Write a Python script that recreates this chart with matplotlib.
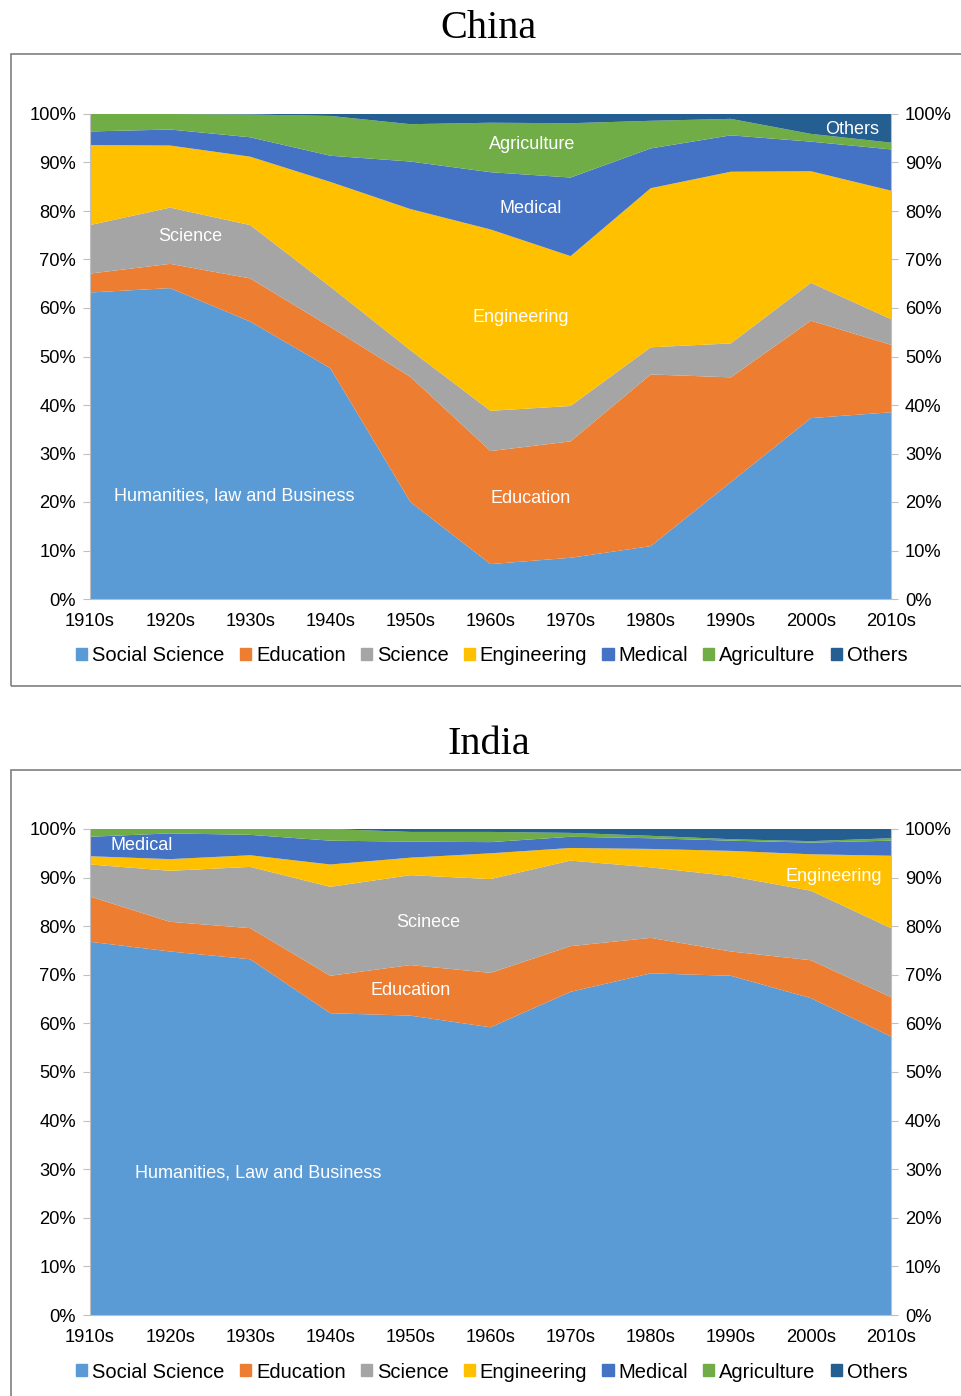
import matplotlib
matplotlib.use("Agg")
import matplotlib.pyplot as plt
from matplotlib.patches import Rectangle, Patch
import numpy as np

decades = ["1910s", "1920s", "1930s", "1940s", "1950s", "1960s",
           "1970s", "1980s", "1990s", "2000s", "2010s"]
fields = ["Social Science", "Education", "Science", "Engineering",
          "Medical", "Agriculture", "Others"]
colors = ["#5B9BD5", "#ED7D31", "#A5A5A5", "#FFC000",
          "#4472C4", "#70AD47", "#255E91"]

# China shares (%) per decade
china_social = [63.2, 64.1, 57.2, 47.6, 20.0, 7.2, 8.5, 10.9, 24.1, 37.3, 38.5]
china_edu = [3.9, 5.0, 8.9, 8.5, 25.8, 23.3, 24.0, 35.4, 21.6, 20.1, 13.9]
china_sci = [10.0, 11.6, 11.0, 8.3, 5.5, 8.3, 7.3, 5.6, 7.0, 7.8, 5.3]
china_eng = [16.5, 12.8, 14.1, 21.6, 29.1, 37.4, 30.9, 32.8, 35.4, 23.0, 26.5]
china_med = [2.8, 3.3, 4.0, 5.4, 9.8, 11.8, 16.2, 8.2, 7.5, 6.1, 8.5]
china_agri = [3.6, 3.2, 4.7, 8.2, 7.7, 10.2, 11.2, 5.7, 3.4, 1.6, 1.4]
china_other = [0.0, 0.0, 0.1, 0.4, 2.1, 1.8, 1.9, 1.4, 1.0, 4.1, 5.9]

# India shares (%) per decade
india_social = [76.8, 74.8, 73.2, 62.1, 61.6, 59.2, 66.5, 70.3, 69.8, 65.2, 57.3]
india_edu = [9.3, 6.1, 6.4, 7.7, 10.4, 11.2, 9.4, 7.3, 5.0, 7.8, 8.1]
india_sci = [6.6, 10.5, 12.6, 18.3, 18.5, 19.3, 17.6, 14.5, 15.5, 14.3, 14.2]
india_eng = [1.7, 2.4, 2.4, 4.6, 3.6, 5.3, 2.6, 3.8, 5.2, 7.5, 14.9]
india_med = [4.0, 5.3, 4.2, 4.9, 3.3, 2.3, 2.3, 2.2, 2.1, 2.4, 3.1]
india_agri = [1.6, 0.9, 1.2, 2.4, 2.0, 2.1, 0.8, 0.5, 0.3, 0.3, 0.5]
india_other = [0.0, 0.0, 0.0, 0.0, 0.6, 0.6, 0.8, 1.4, 2.1, 2.5, 1.9]

china_labels = [("Humanities, law and Business", 1.8, 21.2),
                ("Science", 1.25, 74.8),
                ("Engineering", 5.38, 58.1),
                ("Education", 5.5, 20.8),
                ("Medical", 5.5, 80.6),
                ("Agriculture", 5.52, 93.8),
                ("Others", 9.52, 96.9)]
india_labels = [("Humanities, Law and Business", 2.1, 29.2),
                ("Medical", 0.65, 96.6),
                ("Scinece", 4.22, 80.8),
                ("Education", 4.0, 66.8),
                ("Engineering", 9.29, 90.3)]

W, H = 962, 1396
fig = plt.figure(figsize=(W / 100, H / 100), dpi=100)
plt.rcParams["font.family"] = ["Liberation Sans", "DejaVu Sans"]

def px_axes(x0, y0, x1, y1):
  return fig.add_axes([x0 / W, 1 - y1 / H, (x1 - x0) / W, (y1 - y0) / H])

def draw_panel(series, labels, title, box_top, box_bot, plot_top, plot_bot, legend_y, title_y):
  fig.add_artist(Rectangle((11 / W, 1 - box_bot / H), 1.0, (box_bot - box_top) / H,
                           transform=fig.transFigure, fill=False,
                           edgecolor="#7F7F7F", lw=1.2))
  fig.text(489 / W, 1 - title_y / H, title, ha="center", va="center",
           fontsize=29, family=["Liberation Serif", "DejaVu Serif"])
  ax = px_axes(90, plot_top, 891, plot_bot)
  x = np.arange(len(decades))
  ax.stackplot(x, *series, colors=colors, labels=fields, lw=0)
  ax.set_xlim(0, len(decades) - 1)
  ax.set_ylim(0, 100)
  ax.set_yticks(np.arange(0, 101, 10))
  ax.set_yticklabels([f"{v}%" for v in range(0, 101, 10)])
  ax.set_xticks(x)
  ax.set_xticklabels(decades)
  for s in ["top", "right"]:
    ax.spines[s].set_visible(False)
  for s in ["left", "bottom"]:
    ax.spines[s].set_color("#BFBFBF")
  ax.tick_params(axis="y", length=5, color="#BFBFBF", labelsize=13.2, pad=5)
  ax.tick_params(axis="x", length=0, labelsize=13.2, pad=10)
  ax2 = ax.twinx()
  ax2.set_ylim(0, 100)
  ax2.set_yticks(np.arange(0, 101, 10))
  ax2.set_yticklabels([f"{v}%" for v in range(0, 101, 10)])
  for s in ["top", "left", "bottom"]:
    ax2.spines[s].set_visible(False)
  ax2.spines["right"].set_color("#BFBFBF")
  ax2.tick_params(axis="y", length=5, color="#BFBFBF", labelsize=13.2, pad=5)
  for txt, lx, ly in labels:
    ax.text(lx, ly, txt, color="white", fontsize=13, ha="center", va="center")
  handles = [Patch(color=c, label=f) for c, f in zip(colors, fields)]
  fig.legend(handles=handles, loc="center", bbox_to_anchor=(492 / W, 1 - (legend_y + 2) / H),
             ncol=7, frameon=False, fontsize=14.5, handlelength=0.55, handleheight=0.55,
             handletextpad=0.25, columnspacing=0.75)

draw_panel([china_social, china_edu, china_sci, china_eng, china_med, china_agri, china_other],
           china_labels, "China", 54, 686, 114, 599, 654, 29)
draw_panel([india_social, india_edu, india_sci, india_eng, india_med, india_agri, india_other],
           india_labels, "India", 770, 1420, 829, 1315, 1370, 745)

plt.savefig("out.png", dpi=100)
